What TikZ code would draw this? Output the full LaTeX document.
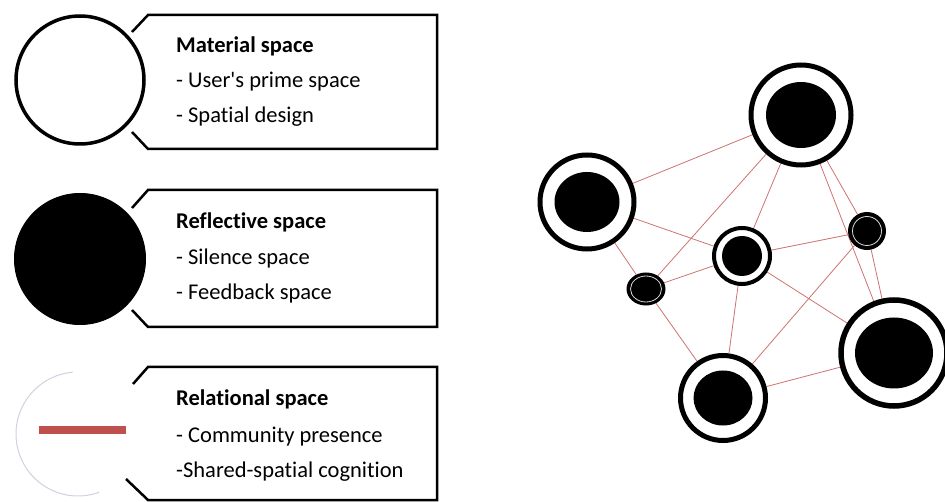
\documentclass[tikz,border=0pt]{standalone}
\usepackage{fontspec}
\setmainfont{Carlito}[Ligatures={NoCommon}]
\usetikzlibrary{positioning,backgrounds,shapes.geometric}
\definecolor{myred}{RGB}{192,80,77}
\colorlet{mylink}{myred!80}
\colorlet{myfaint}{blue!20!gray!30}
\tikzset{
  callout/.style={line width=2.5, line join=miter},
  legend/.style={circle, draw, line width=3.5, minimum size=128, inner sep=0},
  txt/.style={anchor=base west, inner sep=0, font=\fontsize{22.5}{27}\selectfont},
  title/.style={txt, font=\fontsize{22.5}{27}\selectfont\bfseries},
  ring/.style={circle, draw, fill=white, line width=5, inner sep=0},
  dot/.style={circle, draw, fill=black, line width=2, inner sep=0},
  link/.style={mylink, line width=0.8}
}

\begin{document}
\begin{tikzpicture}[x=1pt, y=-1pt]
\useasboundingbox (0,0) rectangle (945,502);

% The legend
\node[legend] (material) at (80,80) {};
\draw[callout] (132,32) -- (148,15) -- (437,15) -- (437,149) -- (148,149) -- (132,132);
\node[title] (materialT) at (176,53) {Material space};
\node[txt] (materialA) at (176,88) {- User\textquotesingle s prime space};
\node[txt] (materialB) at (176,123) {- Spatial design};

\node[legend, fill=black, line width=1, minimum size=131] (reflective) at (80,259) {};
\draw[callout] (132,208) -- (148,190) -- (437,190) -- (437,327) -- (148,327) -- (132,310);
\node[title] (reflectiveT) at (176,229) {Reflective space};
\node[txt] (reflectiveA) at (176,265) {- Silence space};
\node[txt] (reflectiveB) at (176,300) {- Feedback space};

\coordinate (relational) at (78,434);
\draw[myfaint, line width=1] (relational) ++(95:62pt) arc[start angle=95, end angle=290, radius=62pt];
\fill[myred] (39,426) rectangle (126,434);
\draw[callout] (133,384) -- (148,367) -- (437,367) -- (437,500) -- (148,500) -- (126,479);
\node[title] (relationalT) at (176,406) {Relational space};
\node[txt] (relationalA) at (176,442) {- Community presence};
\node[txt] (relationalB) at (176,477) {-Shared-spatial cognition};

% The network
\node[ring, minimum size=100] (top) at (801,115) {};
\node[ring, minimum size=94] (left) at (587,202) {};
\node[ring, line width=4, minimum size=56] (mid) at (742,256) {};
\node[dot, ellipse, minimum width=37, minimum height=31] (small) at (646,289) {};
\node[dot, minimum size=36] (right) at (867,231) {};
\node[ring, line width=5.5, minimum size=106] (corner) at (894,353) {};
\node[ring, minimum size=85] (bottom) at (723,398) {};

\fill (top) ellipse[x radius=35pt, y radius=33pt];
\fill (left) ellipse[x radius=32.5pt, y radius=30pt];
\fill (mid) circle[radius=20pt];
\fill (corner) ellipse[x radius=39pt, y radius=35.5pt];
\fill (bottom) ellipse[x radius=29.5pt, y radius=27.5pt];
\draw[white!85!black, line width=0.8] (small) ellipse[x radius=15.5pt, y radius=13pt];
\draw[white!85!black, line width=0.8] (right) circle[radius=14.5pt];

% The connections
\begin{scope}[on background layer]
\draw[link] (top) -- (left);
\draw[link] (top) -- (small);
\draw[link] (top) -- (mid);
\draw[link] (top) -- (corner);
\draw[link] (top) -- (right);
\draw[link] (left) -- (mid);
\draw[link] (left) -- (small);
\draw[link] (small) -- (mid);
\draw[link] (mid) -- (right);
\draw[link] (mid) -- (bottom);
\draw[link] (mid) -- (corner);
\draw[link] (right) -- (bottom);
\draw[link] (right) -- (corner);
\draw[link] (small) -- (bottom);
\draw[link] (bottom) -- (corner);
\end{scope}

\end{tikzpicture}
\end{document}
